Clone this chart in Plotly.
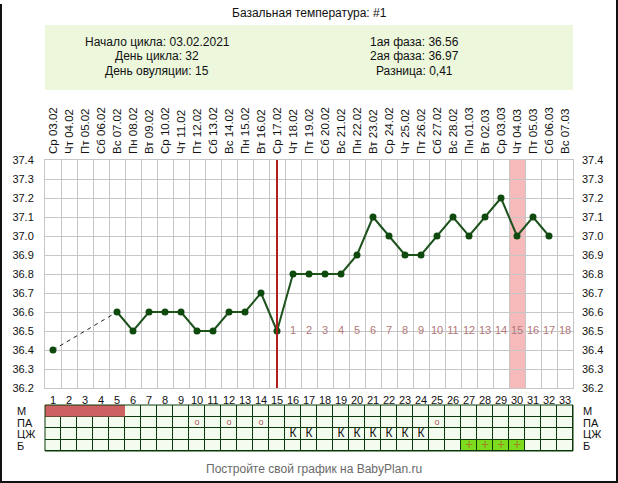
import plotly.graph_objects as go

W, H = 618, 483

# ---------------- data ----------------
days = list(range(1, 34))
day_labels = [str(d) for d in days]
date_labels = [
    "Ср 03.02", "Чт 04.02", "Пт 05.02", "Сб 06.02", "Вс 07.02", "Пн 08.02",
    "Вт 09.02", "Ср 10.02", "Чт 11.02", "Пт 12.02", "Сб 13.02", "Вс 14.02",
    "Пн 15.02", "Вт 16.02", "Ср 17.02", "Чт 18.02", "Пт 19.02", "Сб 20.02",
    "Вс 21.02", "Пн 22.02", "Вт 23.02", "Ср 24.02", "Чт 25.02", "Пт 26.02",
    "Сб 27.02", "Вс 28.02", "Пн 01.03", "Вт 02.03", "Ср 03.03", "Чт 04.03",
    "Пт 05.03", "Сб 06.03", "Вс 07.03",
]
temps = [36.4, None, None, None, 36.6, 36.5, 36.6, 36.6, 36.6, 36.5, 36.5,
         36.6, 36.6, 36.7, 36.5, 36.8, 36.8, 36.8, 36.8, 36.9, 37.1, 37.0,
         36.9, 36.9, 37.0, 37.1, 37.0, 37.1, 37.2, 37.0, 37.1, 37.0, None]
ovulation_day = 15
highlight_day = 30
post_ov_days = list(range(16, 34))
post_ov_labels = [str(i) for i in range(1, 19)]

title_text = "Базальная температура: #1"
info_left = ["Начало цикла: 03.02.2021", "День цикла: 32", "День овуляции: 15"]
info_right = ["1ая фаза: 36.56", "2ая фаза: 36.97", "Разница: 0,41"]
footer_text = "Постройте свой график на BabyPlan.ru"

table_rows = ["М", "ПА", "ЦЖ", "Б"]
m_days = [1, 2, 3, 4, 5]
pa_days = [10, 12, 14, 25]
cm_days = [16, 17, 19, 20, 21, 22, 23, 24]
b_days = [27, 28, 29, 30]

yticks = [36.2, 36.3, 36.4, 36.5, 36.6, 36.7, 36.8, 36.9, 37.0, 37.1, 37.2, 37.3, 37.4]

# ---------------- helpers ----------------
def px(p):
    return p / W

def py(p):
    return 1 - p / H

FONT = "Liberation Sans, Arial, sans-serif"
GRID = "#c6c6c6"
LINE_GREEN = "#1d521d"
DOT_GREEN = "#0e4a0e"
TBL_GRID = "#0a3a0a"

fig = go.Figure()

# dashed connectors over gaps
valid = [(d, t) for d, t in zip(days, temps) if t is not None]
for (d0, t0), (d1, t1) in zip(valid[:-1], valid[1:]):
    if d1 - d0 > 1:
        fig.add_trace(go.Scatter(x=[d0, d1], y=[t0, t1], mode="lines",
                                 line=dict(color="#222222", width=1, dash="4px,4px"),
                                 hoverinfo="skip", showlegend=False))

# main temperature line
fig.add_trace(go.Scatter(x=days, y=temps, mode="lines+markers",
                         connectgaps=False,
                         line=dict(color=LINE_GREEN, width=2),
                         marker=dict(color=DOT_GREEN, size=7),
                         showlegend=False))

# post-ovulation day numbers
fig.add_trace(go.Scatter(x=post_ov_days, y=[36.5] * len(post_ov_days), mode="text",
                         text=post_ov_labels, textposition="middle center",
                         textfont=dict(family=FONT, size=11, color="#b07878"),
                         hoverinfo="skip", showlegend=False))

# invisible trace for the top / right axes
fig.add_trace(go.Scatter(x=days, y=[None] * len(days), xaxis="x2", yaxis="y2",
                         mode="markers", hoverinfo="skip", showlegend=False))

# ---------------- table ----------------
z = []
for r in table_rows:
    z.append([1 if (r == "Б" and d in b_days) else 0 for d in days])

BG_CELL = "#f4fcf0"
fig.add_trace(go.Heatmap(z=z, x=days, y=table_rows, xaxis="x3", yaxis="y3",
                         zmin=0, zmax=1, showscale=False, xgap=1, ygap=1,
                         colorscale=[[0, BG_CELL], [0.5, BG_CELL], [0.5, "#7edc1e"], [1, "#7edc1e"]],
                         hoverinfo="skip"))
# menstruation bar: continuous block over its days
fig.add_trace(go.Bar(orientation="h", y=["М"], x=[len(m_days)], base=[m_days[0] - 0.5],
                     width=[1], xaxis="x3", yaxis="y3",
                     marker=dict(color="#cd6060", line=dict(width=0)),
                     hoverinfo="skip", showlegend=False))
fig.add_trace(go.Scatter(x=pa_days, y=["ПА"] * len(pa_days), xaxis="x3", yaxis="y3",
                         mode="text", text=["o"] * len(pa_days),
                         textfont=dict(family=FONT, size=9, color="#a85a5a"),
                         hoverinfo="skip", showlegend=False))
fig.add_trace(go.Scatter(x=cm_days, y=["ЦЖ"] * len(cm_days), xaxis="x3", yaxis="y3",
                         mode="text", text=["К"] * len(cm_days),
                         textfont=dict(family=FONT, size=12, color="#111111"),
                         hoverinfo="skip", showlegend=False))
fig.add_trace(go.Scatter(x=b_days, y=["Б"] * len(b_days), xaxis="x3", yaxis="y3",
                         mode="text", text=["+"] * len(b_days),
                         textfont=dict(family=FONT, size=14, color="#a08420"),
                         hoverinfo="skip", showlegend=False))

XDOM = [px(45), px(573)]
xr = [days[0] - 0.5, days[-1] + 0.5]

shapes = [
    # header box
    dict(type="rect", xref="paper", yref="paper", x0=px(45), x1=px(573), y0=py(90), y1=py(25),
         fillcolor="#ecf7dc", line=dict(width=0), layer="below"),
    # highlight band
    dict(type="rect", xref="x", yref="y domain", x0=highlight_day - 0.5, x1=highlight_day + 0.5,
         y0=0, y1=1, fillcolor="#f6baba", line=dict(width=0), layer="below"),
    # ovulation line
    dict(type="line", xref="x", yref="y domain", x0=ovulation_day, x1=ovulation_day, y0=0, y1=1,
         line=dict(color="#b01e1e", width=2), layer="above"),
    # table background (gaps show this as grid)
    dict(type="rect", xref="x3 domain", yref="y3 domain", x0=0, x1=1, y0=0, y1=1,
         fillcolor=TBL_GRID, line=dict(width=0), layer="below"),
    dict(type="rect", xref="x3 domain", yref="y3 domain", x0=0, x1=1, y0=0, y1=1,
         fillcolor="rgba(0,0,0,0)", line=dict(color=TBL_GRID, width=1), layer="above"),
    # outer frame (left, bottom, right)
    dict(type="path", xref="paper", yref="paper",
         path=f"M {px(1)} {py(4)} L {px(1)} {py(482)} L {px(617)} {py(482)} L {px(617)} {py(0)}",
         line=dict(color="#111111", width=2), layer="above"),
]

annotations = [
    dict(text=title_text, x=px(309), y=py(13), xref="paper", yref="paper",
         showarrow=False, font=dict(family=FONT, size=12, color="#111111"),
         xanchor="center", yanchor="middle"),
    dict(text=footer_text, x=px(314), y=py(469), xref="paper", yref="paper",
         showarrow=False, font=dict(family=FONT, size=12, color="#6a6a6a"),
         xanchor="center", yanchor="middle"),
]
for i, (tl, tr) in enumerate(zip(info_left, info_right)):
    yy = 42 + i * 14.5
    annotations.append(dict(text=tl, x=px(157), y=py(yy), xref="paper", yref="paper",
                            showarrow=False, font=dict(family=FONT, size=12, color="#111111"),
                            xanchor="center", yanchor="middle"))
    annotations.append(dict(text=tr, x=px(414), y=py(yy), xref="paper", yref="paper",
                            showarrow=False, font=dict(family=FONT, size=12, color="#111111"),
                            xanchor="center", yanchor="middle"))
for r in table_rows:
    annotations.append(dict(text=r, x=px(15), y=r, xref="paper", yref="y3",
                            showarrow=False, font=dict(family=FONT, size=11, color="#111111"),
                            xanchor="left", yanchor="middle", height=11, valign="middle"))
    annotations.append(dict(text=r, x=px(581), y=r, xref="paper", yref="y3",
                            showarrow=False, font=dict(family=FONT, size=11, color="#111111"),
                            xanchor="left", yanchor="middle", height=11, valign="middle"))

tickfont = dict(family=FONT, size=11, color="#111111")

fig.update_layout(
    autosize=True,
    margin=dict(l=0, r=0, t=0, b=0, autoexpand=False),
    paper_bgcolor="white", plot_bgcolor="white",
    showlegend=False,
    font=dict(family=FONT),
    shapes=shapes,
    annotations=annotations,
    xaxis=dict(domain=XDOM, range=xr, anchor="y",
               tickmode="array", tickvals=days, ticktext=day_labels,
               ticks="", ticklabelstandoff=2, tickfont=tickfont,
               showgrid=False, zeroline=False,
               showline=True, linecolor=GRID, linewidth=1, mirror=True,
               minor=dict(tick0=0.5, dtick=1, showgrid=True, gridcolor=GRID, gridwidth=1, ticks="")),
    xaxis2=dict(overlaying="x", side="top", range=xr, anchor="y",
                tickmode="array", tickvals=days, ticktext=date_labels,
                tickangle=-90, ticks="", ticklabelstandoff=5,
                tickfont=dict(family=FONT, size=11.5, color="#111111"),
                showgrid=False, zeroline=False),
    yaxis=dict(domain=[py(388), py(160)], range=[36.2, 37.4], anchor="x",
               tickmode="array", tickvals=yticks, tickformat=".1f",
               ticks="", ticklabelstandoff=8, tickfont=tickfont,
               showgrid=True, gridcolor=GRID, gridwidth=1, zeroline=False,
               showline=True, linecolor=GRID, mirror=True),
    yaxis2=dict(overlaying="y", side="right", range=[36.2, 37.4], anchor="x",
                tickmode="array", tickvals=yticks, tickformat=".1f",
                ticks="", ticklabelstandoff=8, tickfont=tickfont,
                showgrid=False, zeroline=False),
    xaxis3=dict(domain=XDOM, range=xr, anchor="y3", showticklabels=False,
                showgrid=False, zeroline=False, ticks=""),
    yaxis3=dict(domain=[py(451), py(405)], anchor="x3", autorange=False,
                range=[len(table_rows) - 0.5, -0.5],
                type="category", showticklabels=False, showgrid=False,
                zeroline=False, ticks=""),
)

fig.write_html(
    "out.html",
    config={"displayModeBar": False, "responsive": True},
    default_width="100vw",
    default_height="100vh",
    post_script=(
        "document.documentElement.style.margin='0';"
        "document.documentElement.style.overflow='hidden';"
        "document.body.style.margin='0';"
        "document.body.style.overflow='hidden';"
        "Plotly.Plots.resize(document.getElementById('{plot_id}'));"
    ),
)
